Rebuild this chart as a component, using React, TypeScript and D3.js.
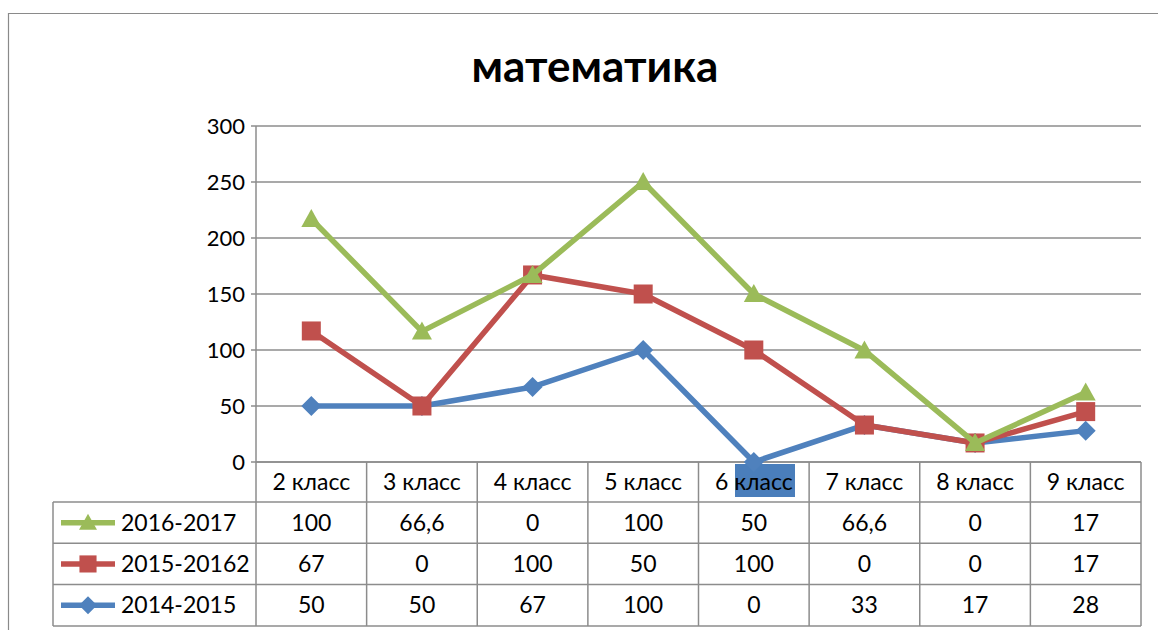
import React from "react";
import * as d3 from "d3";

const categories = ["2 класс", "3 класс", "4 класс", "5 класс", "6 класс", "7 класс", "8 класс", "9 класс"];
const s2014 = [50, 50, 67, 100, 0, 33, 17, 28];
const s2015 = [67, 0, 100, 50, 100, 0, 0, 17];
const s2016 = [100, 66.6, 0, 100, 50, 66.6, 0, 17];
const s2016Labels = ["100", "66,6", "0", "100", "50", "66,6", "0", "17"];
const yTicks = [0, 50, 100, 150, 200, 250, 300];

const W = 1158, H = 630;
const L = 256, R = 1141, T = 126, B = 462;
const rowH = 41.3;
const FONT = "Lato, 'Open Sans', sans-serif";

export default function App() {
  const x = d3.scaleBand<string>().domain(categories).range([L, R]);
  const y = d3.scaleLinear().domain([0, 300]).range([B, T]);
  const cx = (c: string) => (x(c) as number) + x.bandwidth() / 2;

  const st1 = s2014;
  const st2 = s2014.map((v, i) => v + s2015[i]);
  const st3 = st2.map((v, i) => v + s2016[i]);

  const line = d3.line<number>().x((_, i) => cx(categories[i])).y((d) => y(d));

  const series = [
    { name: "2016-2017", color: "#9BBB59", vals: st3, labels: s2016Labels, marker: "tri" },
    { name: "2015-20162", color: "#C0504D", vals: st2, labels: s2015.map(String), marker: "sq" },
    { name: "2014-2015", color: "#4F81BD", vals: st1, labels: s2014.map(String), marker: "dia" },
  ];

  const marker = (type: string, px: number, py: number, color: string, key: any, k = 1) => {
    if (type === "tri") {
      const s = 10 * k;
      return <path key={key} d={`M${px},${py - s} L${px + s},${py + s * 0.8} L${px - s},${py + s * 0.8} Z`} fill={color} />;
    }
    if (type === "sq") {
      const s = 9.5 * k;
      return <rect key={key} x={px - s} y={py - s} width={s * 2} height={s * 2} fill={color} />;
    }
    const s = 10 * k;
    return <path key={key} d={`M${px},${py - s} L${px + s},${py} L${px},${py + s} L${px - s},${py} Z`} fill={color} />;
  };

  const tableTop = B;
  const rows = [tableTop, tableTop + 40, tableTop + 40 + rowH, tableTop + 40 + 2 * rowH, tableTop + 40 + 3 * rowH];
  const legendL = 53;
  const grid = "#8c8c8c";

  return (
    <svg width={W} height={H} style={{ position: "absolute", left: 0, top: 0, background: "#fff" }} fontFamily={FONT}>
      <rect x={0} y={0} width={W} height={H} fill="#fff" />
      <line x1={8.5} y1={13} x2={8.5} y2={H} stroke="#8a8a8a" strokeWidth={1.2} />
      <line x1={8} y1={13.5} x2={W} y2={13.5} stroke="#8a8a8a" strokeWidth={1.2} />

      <text x={595} y={82} textAnchor="middle" fontSize={44} fontWeight="bold" fill="#000">математика</text>

      {yTicks.map((t) => (
        <g key={t}>
          <line x1={L - 5} x2={R} y1={y(t)} y2={y(t)} stroke={grid} strokeWidth={1.5} />
          <text x={245} y={y(t) + 8} textAnchor="end" fontSize={22} fill="#000">{t}</text>
        </g>
      ))}
      <line x1={L} x2={L} y1={T} y2={B} stroke={grid} strokeWidth={1.5} />

      {rows.map((ry, i) => (
        <line key={"r" + i} x1={i === 0 ? L : legendL} x2={R} y1={ry} y2={ry} stroke={grid} strokeWidth={1.5} />
      ))}
      <line x1={legendL} x2={legendL} y1={rows[1]} y2={rows[4]} stroke={grid} strokeWidth={1.5} />
      {categories.map((c, i) => (
        <line key={"v" + i} x1={x(c) as number} x2={x(c) as number} y1={rows[0]} y2={rows[4]} stroke={grid} strokeWidth={1.5} />
      ))}
      <line x1={R} x2={R} y1={rows[0]} y2={rows[4]} stroke={grid} strokeWidth={1.5} />

      <rect x={735} y={464} width={60} height={33} fill="#4A7EBB" />
      {categories.map((c) => (
        <text key={c} x={cx(c)} y={rows[0] + 28} textAnchor="middle" fontSize={23} fill="#000">{c}</text>
      ))}

      {series.map((s, si) => {
        const ry = rows[si + 1];
        const my = ry + rowH / 2;
        return (
          <g key={s.name}>
            <line x1={61} x2={115} y1={my} y2={my} stroke={s.color} strokeWidth={5.5} />
            {marker(s.marker, 88, my, s.color, "lm", 0.9)}
            <text x={121} y={my + 8} fontSize={23} fill="#000">{s.name}</text>
            {s.labels.map((lab, i) => (
              <text key={i} x={cx(categories[i])} y={my + 8} textAnchor="middle" fontSize={23} fill="#000">{lab}</text>
            ))}
          </g>
        );
      })}

      {[...series].reverse().map((s) => (
        <g key={"l" + s.name}>
          <path d={line(s.vals) || ""} fill="none" stroke={s.color} strokeWidth={5.5} strokeLinejoin="round" />
          {s.vals.map((v, i) => marker(s.marker, cx(categories[i]), y(v), s.color, i))}
        </g>
      ))}
    </svg>
  );
}
